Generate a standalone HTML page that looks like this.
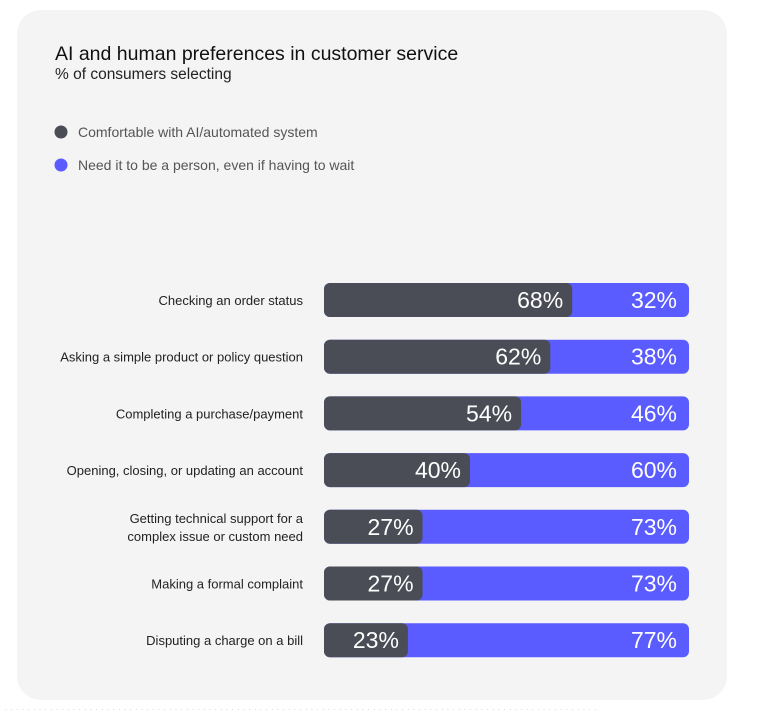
<!DOCTYPE html>
<html><head><meta charset="utf-8"><style>
body{margin:0;background:#fff;width:757px;height:715px;overflow:hidden;font-family:"Liberation Sans",sans-serif;}
#card{position:absolute;left:17px;top:10px;width:710px;height:690px;background:#f4f4f4;border-radius:24px;}
.t{position:absolute;white-space:nowrap;}
</style></head><body>
<div id="card"></div>
<div class="t" style="left:55px;top:43px;font-size:19.5px;color:#111;">AI and human preferences in customer service</div>
<div class="t" style="left:55px;top:66px;font-size:15.5px;color:#222;">% of consumers selecting</div>
<svg id="chart" width="757" height="715" style="position:absolute;left:0;top:0"></svg>
<div class="t" style="left:5px;top:707px;font-size:6px;color:#999;letter-spacing:1px;">· · · · · · · · · · · · · · · · · · · · · · · · · · · · · · · · · · · · · · · · · · · · · · · · · · · · · · · · · · · · · · · · · · · · · · · · · · · · · · · · · · · · · · · · · · · · · · · · · · · · · · · · ·</div>
<script>
const categories=["Checking an order status","Asking a simple product or policy question","Completing a purchase/payment","Opening, closing, or updating an account","Getting technical support for a|complex issue or custom need","Making a formal complaint","Disputing a charge on a bill"];
const aiValues=[68,62,54,40,27,27,23];
const personValues=[32,38,46,60,73,73,77];
const seriesNames=["Comfortable with AI/automated system","Need it to be a person, even if having to wait"];
const colors=["#4a4d55","#5b5cff"];
const NS="http://www.w3.org/2000/svg";
const svg=document.getElementById('chart');
const x0=324,W=365,y0=300,step=56.7,bh=34;
const xs=v=>W*v/100;
const ys=i=>y0+i*step;
function mk(t,a){const e=document.createElementNS(NS,t);for(const k in a)e.setAttribute(k,a[k]);svg.appendChild(e);return e;}
seriesNames.forEach((n,i)=>{
 const c=mk('circle',{cx:61,cy:132+i*33,r:6.5,fill:colors[i]});
 
 
 const t=mk('text',{x:78,y:137+i*33,'font-size':14,fill:'#555'});t.textContent=n;
 
 
});
categories.forEach((c,i)=>{
 const cy=ys(i);
 const b=mk('rect',{x:x0,y:cy-bh/2,width:W,height:bh,rx:6,fill:colors[1]});
 
 
 const a=mk('rect',{x:x0,y:cy-bh/2,width:xs(aiValues[i]),height:bh,rx:6,fill:colors[0]});
 
 
 const ta=mk('text',{x:x0+xs(aiValues[i])-9,y:cy+8,'font-size':23,fill:'#fff','text-anchor':'end'});
 ta.textContent=aiValues[i]+'%';
 
 
 const tp=mk('text',{x:x0+W-12,y:cy+8,'font-size':23,fill:'#fff','text-anchor':'end'});
 tp.textContent=personValues[i]+'%';
 
 
 const lines=c.split('|');
 lines.forEach((l,j)=>{
  const t=mk('text',{x:303,y:cy+5+(j-(lines.length-1)/2)*18,'font-size':13,fill:'#222','text-anchor':'end'});
  t.textContent=l;
  
  
 });
});
</script>
</body></html>
